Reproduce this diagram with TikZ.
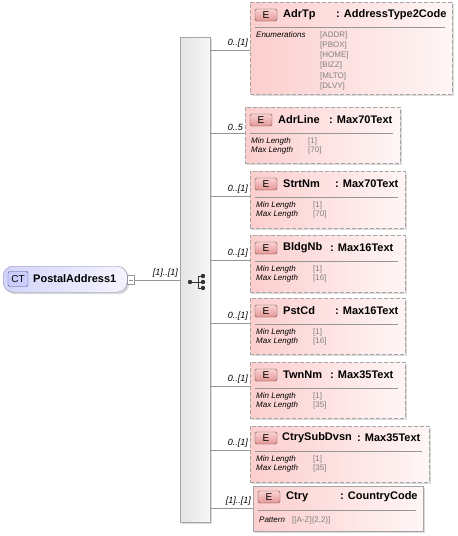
\documentclass[tikz,border=0pt]{standalone}
\usepackage{fontspec}
\setmainfont{Liberation Sans}
\usetikzlibrary{shadows}

\definecolor{elempink}{RGB}{252,206,206}
\definecolor{elemwhite}{RGB}{255,246,246}
\definecolor{elemframe}{RGB}{165,165,165}
\definecolor{iconred}{RGB}{228,150,150}
\definecolor{iconlight}{RGB}{250,210,210}
\definecolor{iconframe}{RGB}{110,80,80}
\definecolor{ctleft}{RGB}{212,212,250}
\definecolor{ctright}{RGB}{244,244,255}
\definecolor{ctframe}{RGB}{140,140,175}
\definecolor{ctdark}{RGB}{80,80,140}
\definecolor{seqleft}{RGB}{228,228,228}
\definecolor{seqright}{RGB}{247,247,247}
\definecolor{wire}{RGB}{150,150,150}
\definecolor{facetval}{RGB}{128,128,128}

\tikzset{
  shade/.style={drop shadow={shadow xshift=2pt, shadow yshift=-2pt, fill=black!14, opacity=1}},
  elem/.style={draw=elemframe, left color=elempink, right color=elemwhite, inner sep=0pt,
    anchor=north west, shade},
  optional/.style={dash pattern=on 4pt off 2pt},
  eicon/.style={draw=iconframe, top color=iconlight, bottom color=iconred, rounded corners=1.5pt,
    minimum width=22, minimum height=12, inner sep=0pt, font=\fontsize{10}{12}\selectfont},
  hdr/.style={anchor=west, inner sep=0pt, font=\fontsize{11}{13}\selectfont\bfseries},
  facet/.style={anchor=west, inner sep=0pt, font=\fontsize{8}{9}\selectfont\itshape},
  fval/.style={anchor=west, inner sep=0pt, text=facetval, font=\fontsize{8}{9}\selectfont},
  mult/.style={anchor=south east, inner sep=0pt, xshift=-2pt, yshift=2pt, font=\fontsize{9}{10}\selectfont\itshape},
  link/.style={draw=wire},
  sep/.style={draw=wire}
}

\begin{document}
\begin{tikzpicture}[x=1pt,y=-1pt]
\useasboundingbox (0,0) rectangle (458,536);

% complex type
\node[draw=ctframe, left color=ctleft, right color=ctright, rounded corners=10pt, anchor=north west,
  minimum width=124, minimum height=26, inner sep=0pt, shade] (postal) at (3,266) {};
\node[draw=ctdark, fill=ctleft!80!blue!60, rounded corners=2pt, minimum width=20, minimum height=15,
  inner sep=0pt, font=\fontsize{10}{12}\selectfont] (ct) at (18,279) {CT};
\node[hdr] (postalname) at (33,279) {PostalAddress1};
\node[draw=wire, fill=white, minimum width=7, minimum height=9, inner sep=0pt] (fold) at (131,280) {};
\draw[wire] ([xshift=-2pt]fold.center) -- ([xshift=2pt]fold.center);

% sequence
\node[draw=elemframe, left color=seqleft, right color=seqright, anchor=north west,
  minimum width=30, minimum height=485, inner sep=0pt, shade] (seq) at (180,37) {};
\draw[link] (fold.east) -- (fold.east -| seq.west) node[mult] {[1]..[1]};
\fill[black!80] (190,282) circle (2.2);
\fill[black!80] (203,276) circle (2.2);
\fill[black!80] (203,282) circle (2.2);
\fill[black!80] (203,288) circle (2.2);
\draw[black!80, line width=0.9pt] (190,282) -- (203,282);
\draw[black!80, line width=0.9pt] (198,276) -- (198,288);
\draw[black!80, line width=0.9pt] (198,276) -- (203,276);
\draw[black!80, line width=0.9pt] (198,288) -- (203,288);

% AdrTp
\node[elem, optional, minimum width=202, minimum height=92] (adrtp) at (250,2) {};
\node[eicon] (adrtpicon) at (266,15) {E};
\node[hdr] (adrtpname) at (283,15) {AdrTp};
\node[hdr] (adrtptype) at (336,15) {: AddressType2Code};
\draw[sep] (255,27) -- (445,27);
\node[facet] (adrtpenum) at (256,35) {Enumerations};
\node[fval] (enum1) at (320,35) {[ADDR]};
\node[fval] (enum2) at (320,45) {[PBOX]};
\node[fval] (enum3) at (320,55) {[HOME]};
\node[fval] (enum4) at (320,65) {[BIZZ]};
\node[fval] (enum5) at (320,76) {[MLTO]};
\node[fval] (enum6) at (320,86) {[DLVY]};

% AdrLine
\node[elem, optional, minimum width=155, minimum height=56] (adrline) at (245,107) {};
\node[eicon] (adrlineicon) at (261,120) {E};
\node[hdr] (adrlinename) at (278,120) {AdrLine};
\node[hdr] (adrlinetype) at (329,120) {: Max70Text};
\draw[sep] (250,133) -- (393,133);
\node[facet] at (251,141) {Min Length};
\node[facet] at (251,150) {Max Length};
\node[fval] at (308,141) {[1]};
\node[fval] at (308,150) {[70]};

% StrtNm
\node[elem, optional, minimum width=155, minimum height=57] (strtnm) at (250,171) {};
\node[eicon] (strtnmicon) at (266,184) {E};
\node[hdr] (strtnmname) at (283,184) {StrtNm};
\node[hdr] (strtnmtype) at (335,184) {: Max70Text};
\draw[sep] (255,197) -- (398,197);
\node[facet] at (256,205) {Min Length};
\node[facet] at (256,214) {Max Length};
\node[fval] at (313,205) {[1]};
\node[fval] at (313,214) {[70]};

% BldgNb
\node[elem, optional, minimum width=155, minimum height=57] (bldgnb) at (250,235) {};
\node[eicon] (bldgnbicon) at (266,248) {E};
\node[hdr] (bldgnbname) at (283,248) {BldgNb};
\node[hdr] (bldgnbtype) at (330,248) {: Max16Text};
\draw[sep] (255,261) -- (398,261);
\node[facet] at (256,269) {Min Length};
\node[facet] at (256,278) {Max Length};
\node[fval] at (313,269) {[1]};
\node[fval] at (313,278) {[16]};

% PstCd
\node[elem, optional, minimum width=155, minimum height=56] (pstcd) at (250,298) {};
\node[eicon] (pstcdicon) at (266,311) {E};
\node[hdr] (pstcdname) at (283,311) {PstCd};
\node[hdr] (pstcdtype) at (335,311) {: Max16Text};
\draw[sep] (255,324) -- (398,324);
\node[facet] at (256,332) {Min Length};
\node[facet] at (256,341) {Max Length};
\node[fval] at (313,332) {[1]};
\node[fval] at (313,341) {[16]};

% TwnNm
\node[elem, optional, minimum width=155, minimum height=56] (twnnm) at (250,362) {};
\node[eicon] (twnnmicon) at (266,375) {E};
\node[hdr] (twnnmname) at (283,375) {TwnNm};
\node[hdr] (twnnmtype) at (330,375) {: Max35Text};
\draw[sep] (255,388) -- (398,388);
\node[facet] at (256,396) {Min Length};
\node[facet] at (256,405) {Max Length};
\node[fval] at (313,396) {[1]};
\node[fval] at (313,405) {[35]};

% CtrySubDvsn
\node[elem, optional, minimum width=179, minimum height=56] (ctrysub) at (250,426) {};
\node[eicon] (ctrysubicon) at (266,438) {E};
\node[hdr] (ctrysubname) at (282,438) {CtrySubDvsn};
\node[hdr] (ctrysubtype) at (357,438) {: Max35Text};
\draw[sep] (255,451) -- (422,451);
\node[facet] at (256,459) {Min Length};
\node[facet] at (256,468) {Max Length};
\node[fval] at (313,459) {[1]};
\node[fval] at (313,468) {[35]};

% Ctry
\node[elem, minimum width=170, minimum height=45] (ctry) at (253,486) {};
\node[eicon] (ctryicon) at (269,497) {E};
\node[hdr] (ctryname) at (286,497) {Ctry};
\node[hdr] (ctrytype) at (340,497) {: CountryCode};
\draw[sep] (258,510) -- (416,510);
\node[facet] (ctrypat) at (259,520) {Pattern};
\node[fval] at (292,520) {[[A-Z]\{2,2\}]};

% connectors
\coordinate (j1) at (210,50);
\coordinate (j2) at (210,133);
\coordinate (j3) at (210,196);
\coordinate (j4) at (210,260);
\coordinate (j5) at (210,323);
\coordinate (j6) at (210,386);
\coordinate (j7) at (210,450);
\coordinate (j8) at (210,508);
\draw[link] (j1) -- (j1 -| adrtp.west) node[mult] {0..[1]};
\draw[link] (j2) -- (j2 -| adrline.west) node[mult] {0..5};
\draw[link] (j3) -- (j3 -| strtnm.west) node[mult] {0..[1]};
\draw[link] (j4) -- (j4 -| bldgnb.west) node[mult] {0..[1]};
\draw[link] (j5) -- (j5 -| pstcd.west) node[mult] {0..[1]};
\draw[link] (j6) -- (j6 -| twnnm.west) node[mult] {0..[1]};
\draw[link] (j7) -- (j7 -| ctrysub.west) node[mult] {0..[1]};
\draw[link] (j8) -- (j8 -| ctry.west) node[mult] {[1]..[1]};
\end{tikzpicture}
\end{document}
